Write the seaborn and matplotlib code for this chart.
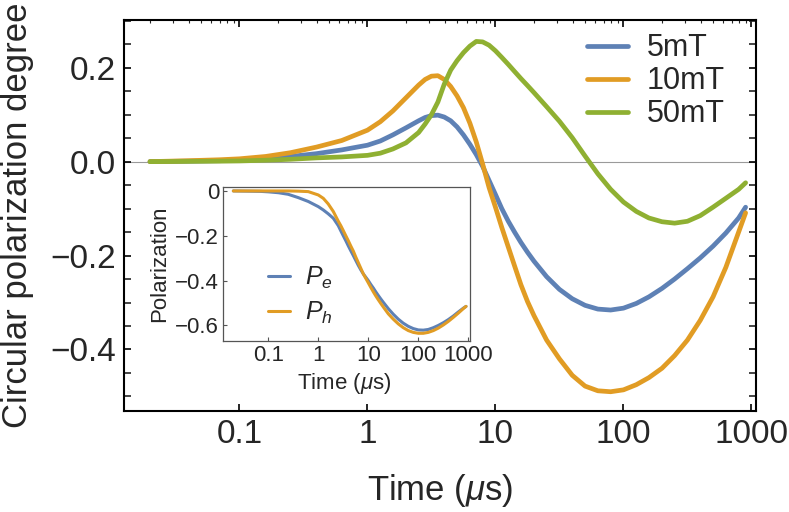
import numpy as np
import pandas as pd
import matplotlib
matplotlib.use('Agg')
import matplotlib.pyplot as plt
from matplotlib.ticker import LogLocator, NullFormatter, MultipleLocator
import seaborn as sns

# main panel: circular polarization degree vs time (us)
t_main = [0.02, 0.04, 0.07, 0.1, 0.16, 0.25, 0.4, 0.63, 1.0, 1.26, 1.58, 2.0, 2.51, 2.82,
          3.16, 3.55, 3.98, 4.47, 5.01, 5.62, 6.31, 7.08, 7.94, 8.91, 10.0, 11.2, 12.6,
          14.1, 15.8, 17.8, 20.0, 25.1, 31.6, 39.8, 50.1, 63.1, 79.4, 100, 126, 158, 200,
          251, 316, 398, 501, 631, 794, 900]
cp_5mT = [0.0, 0.001, 0.002, 0.003, 0.006, 0.011, 0.017, 0.025, 0.035, 0.044, 0.057,
          0.072, 0.087, 0.094, 0.098, 0.099, 0.095, 0.087, 0.074, 0.057, 0.037, 0.015,
          -0.01, -0.04, -0.07, -0.10, -0.127, -0.15, -0.172, -0.193, -0.212, -0.245,
          -0.272, -0.292, -0.306, -0.314, -0.316, -0.312, -0.302, -0.288, -0.27, -0.25,
          -0.228, -0.205, -0.18, -0.152, -0.12, -0.097]
cp_10mT = [0.0, 0.002, 0.004, 0.006, 0.011, 0.019, 0.031, 0.045, 0.067, 0.085, 0.108,
           0.136, 0.163, 0.175, 0.182, 0.183, 0.175, 0.16, 0.14, 0.115, 0.082, 0.042,
           -0.005, -0.055, -0.097, -0.14, -0.182, -0.222, -0.262, -0.298, -0.328, -0.38,
           -0.42, -0.455, -0.478, -0.488, -0.49, -0.486, -0.475, -0.46, -0.44, -0.413,
           -0.38, -0.338, -0.288, -0.225, -0.15, -0.109]
cp_50mT = [0.0, 0.0005, 0.001, 0.0015, 0.003, 0.005, 0.008, 0.01, 0.0134, 0.018, 0.027,
           0.04, 0.062, 0.08, 0.1, 0.127, 0.165, 0.195, 0.215, 0.232, 0.246, 0.256, 0.255,
           0.248, 0.236, 0.222, 0.207, 0.192, 0.177, 0.162, 0.147, 0.117, 0.086, 0.051,
           0.012, -0.026, -0.059, -0.086, -0.106, -0.12, -0.128, -0.131, -0.127, -0.115,
           -0.097, -0.078, -0.059, -0.045]
fields = ['5mT', '10mT', '50mT']

# inset: electron / hole polarization
t_inset = list(t_main)
p_e = [0.0, -0.001, -0.002, -0.004, -0.008, -0.015, -0.03, -0.047, -0.07, -0.085, -0.102,
       -0.122, -0.155, -0.178, -0.2, -0.222, -0.245, -0.267, -0.288, -0.31, -0.332,
       -0.352, -0.37, -0.385, -0.4, -0.417, -0.433, -0.45, -0.466, -0.482, -0.497,
       -0.525, -0.55, -0.572, -0.59, -0.604, -0.614, -0.62, -0.621, -0.618, -0.61, -0.6,
       -0.588, -0.574, -0.558, -0.54, -0.523, -0.515]
p_h = [0.0, 0.0, 0.0, 0.0, 0.0, 0.0, -0.001, -0.003, -0.018, -0.033, -0.058, -0.092,
       -0.135, -0.155, -0.177, -0.2, -0.222, -0.246, -0.268, -0.295, -0.32, -0.345, -0.37,
       -0.39, -0.41, -0.43, -0.45, -0.468, -0.485, -0.502, -0.518, -0.548, -0.572, -0.593,
       -0.61, -0.623, -0.631, -0.635, -0.635, -0.631, -0.623, -0.612, -0.598, -0.582,
       -0.564, -0.545, -0.525, -0.515]

colors = ['#5E81B5', '#E19C24', '#8FB032']

sns.set_theme(style='ticks')
plt.rcParams['font.family'] = ['Liberation Sans', 'DejaVu Sans']
plt.rcParams['mathtext.fontset'] = 'custom'
plt.rcParams['mathtext.rm'] = 'Liberation Sans'
plt.rcParams['mathtext.it'] = 'Liberation Sans:italic'

fig = plt.figure(figsize=(7.89, 5.12), dpi=100)
ax = fig.add_axes([0.1575, 0.1973, 0.8006, 0.7627])

df = pd.DataFrame({'t': t_main * 3,
                   'cp': cp_5mT + cp_10mT + cp_50mT,
                   'B': [f for f in fields for _ in t_main]})

ax.axhline(0, color='#9a9a9a', lw=0.8, zorder=0)
sns.lineplot(data=df, x='t', y='cp', hue='B', palette=colors, hue_order=fields,
             linewidth=3.4, ax=ax, sort=False)

ax.set_xscale('log')
ax.set_xlim(10 ** -1.9, 10 ** 3.035)
ax.set_ylim(-0.531, 0.3006)
ax.set_xticks([0.1, 1, 10, 100, 1000], ['0.1', '1', '10', '100', '1000'])
ax.xaxis.set_minor_locator(LogLocator(base=10, subs=np.arange(2, 10)))
ax.xaxis.set_minor_formatter(NullFormatter())
ax.set_yticks([-0.4, -0.2, 0.0, 0.2])
ax.yaxis.set_minor_locator(MultipleLocator(0.05))
ax.tick_params(which='major', direction='in', top=True, right=True, width=1.2,
               length=5, labelsize=24, pad=6, color='black')
ax.tick_params(which='minor', axis='x', direction='in', top=True, bottom=False,
               length=2.5, width=0.8)
ax.tick_params(which='minor', axis='y', direction='in', left=True, right=True,
               length=5, width=1.2)
for s in ax.spines.values():
    s.set_linewidth(1.5)
    s.set_color('black')

ax.set_xlabel(r'Time ($\mu$s)', fontsize=25)
ax.set_ylabel('Circular polarization degree', fontsize=25)
ax.xaxis.set_label_coords(0.5, -0.155)
ax.yaxis.set_label_coords(-0.143, 0.5)

ax.legend(loc='upper left', bbox_to_anchor=(0.732, 0.967), frameon=False,
          fontsize=22, handlelength=1.36, handletextpad=0.6, labelspacing=0.1,
          borderpad=0, borderaxespad=0)

# inset
axi = fig.add_axes([0.283, 0.3346, 0.3127, 0.3008])
axi.set_facecolor('white')
sns.lineplot(x=t_inset, y=p_e, color=colors[0], linewidth=2.2, ax=axi, label=r'$P_e$',
             sort=False)
sns.lineplot(x=t_inset, y=p_h, color=colors[1], linewidth=2.2, ax=axi, label=r'$P_h$',
             sort=False)
axi.set_xscale('log')
axi.set_xlim(10 ** -1.9, 10 ** 3.034)
axi.set_ylim(-0.668, 0.019)
axi.set_xticks([0.1, 1, 10, 100, 1000], ['0.1', '1', '10', '100', '1000'])
axi.xaxis.set_minor_locator(plt.NullLocator())
axi.set_yticks([-0.6, -0.4, -0.2, 0.0], ['\u22120.6', '\u22120.4', '\u22120.2', '0'])
axi.tick_params(direction='in', length=3, width=0.8, labelsize=16, pad=3,
                color='#555555')
for s in axi.spines.values():
    s.set_linewidth(0.9)
    s.set_color('#555555')
axi.set_xlabel(r'Time ($\mu$s)', fontsize=16)
axi.set_ylabel('Polarization', fontsize=16)
axi.xaxis.set_label_coords(0.49, -0.2)
axi.legend(loc='upper left', bbox_to_anchor=(0.18, 0.49), frameon=False, fontsize=18,
           handlelength=0.9, handletextpad=0.6, labelspacing=0.35, borderpad=0,
           borderaxespad=0)

fig.savefig('out.png', dpi=100)
